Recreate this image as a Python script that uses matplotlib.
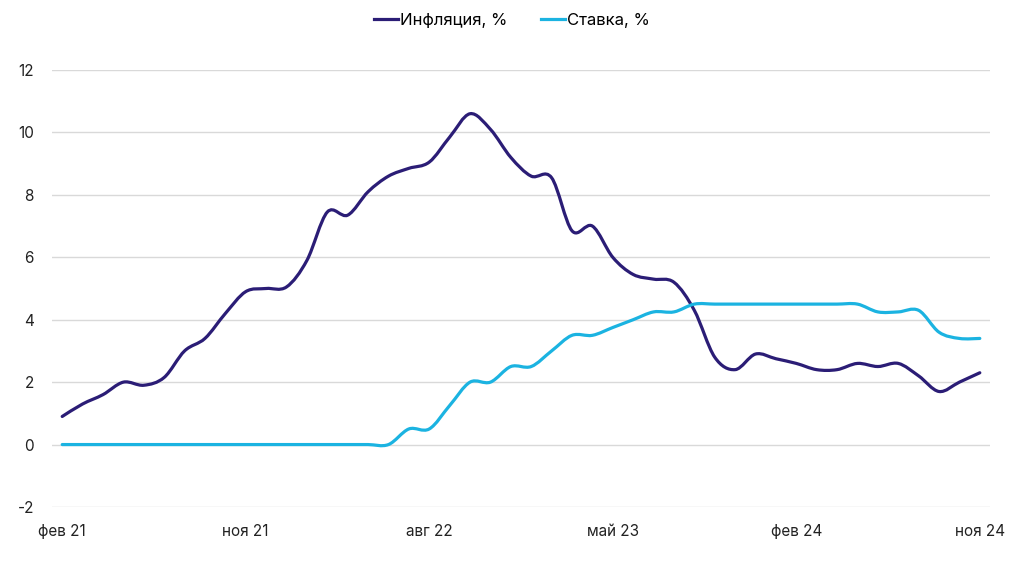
import matplotlib
matplotlib.use("Agg")
import matplotlib.pyplot as plt
from matplotlib.path import Path
from matplotlib.patches import PathPatch
from matplotlib.lines import Line2D
import numpy as np

plt.rcParams['font.family'] = ['Inter', 'DejaVu Sans']
plt.rcParams['axes.unicode_minus'] = False

# monthly data, feb 2021 .. nov 2024
months = np.arange(46)
inflation = [0.9, 1.3, 1.6, 2.0, 1.9, 2.15, 3.0, 3.4, 4.2, 4.9,
             5.0, 5.05, 5.9, 7.45, 7.35, 8.1, 8.6, 8.85, 9.05, 9.85,
             10.6, 10.1, 9.2, 8.6, 8.55, 6.85, 7.0, 6.0, 5.45, 5.3,
             5.2, 4.3, 2.8, 2.4, 2.9, 2.75, 2.6, 2.4, 2.4, 2.6,
             2.5, 2.6, 2.2, 1.7, 2.0, 2.3]
rate = [0, 0, 0, 0, 0, 0, 0, 0, 0, 0,
        0, 0, 0, 0, 0, 0, 0, 0.5, 0.5, 1.25,
        2.0, 2.0, 2.5, 2.5, 3.0, 3.5, 3.5, 3.75, 4.0, 4.25,
        4.25, 4.5, 4.5, 4.5, 4.5, 4.5, 4.5, 4.5, 4.5, 4.5,
        4.25, 4.25, 4.3, 3.6, 3.4, 3.4]
tick_pos = [0, 9, 18, 27, 36, 45]
tick_labels = ["фев 21", "ноя 21", "авг 22", "май 23", "фев 24", "ноя 24"]

c_infl = "#2b1d76"
c_rate = "#1bb3e1"


def smooth_path(x, y):
    # catmull-rom style bezier through the points
    n = len(x)
    verts = [(x[0], y[0])]
    codes = [Path.MOVETO]
    for i in range(n - 1):
        a = max(i - 1, 0)
        d = min(i + 2, n - 1)
        c1 = (x[i] + (x[i + 1] - x[a]) / 6, y[i] + (y[i + 1] - y[a]) / 6)
        c2 = (x[i + 1] - (x[d] - x[i]) / 6, y[i + 1] - (y[d] - y[i]) / 6)
        verts += [c1, c2, (x[i + 1], y[i + 1])]
        codes += [Path.CURVE4] * 3
    return Path(verts, codes)


fig = plt.figure(figsize=(10.24, 5.62), dpi=100)
ax = fig.add_axes([0.0508, 0.0979, 0.916, 0.7775])

for vals, col in [(inflation, c_infl), (rate, c_rate)]:
    p = PathPatch(smooth_path(months, vals), fill=False, edgecolor=col,
                  lw=2.3, capstyle='round', joinstyle='round', zorder=3)
    ax.add_patch(p)

ax.set_xlim(-0.5, 45.5)
ax.set_ylim(-2, 12)
ax.set_yticks(range(-2, 13, 2))
ax.set_xticks(tick_pos)
ax.set_xticklabels(tick_labels)
ax.grid(axis='y', color='#d9d9d9', lw=1)
ax.set_axisbelow(True)
for s in ax.spines.values():
    s.set_visible(False)
ax.tick_params(axis='both', length=0, labelsize=11, colors='#222222')
ax.tick_params(axis='y', pad=13)
ax.tick_params(axis='x', pad=12)

handles = [Line2D([], [], color=c_infl, lw=2.3), Line2D([], [], color=c_rate, lw=2.3)]
fig.legend(handles, ["Инфляция, %", "Ставка, %"], loc='center', bbox_to_anchor=(0.5, 0.963),
           ncol=2, frameon=False, fontsize=12, handlelength=1.45, handletextpad=0.12,
           columnspacing=2.0)

plt.savefig("out.png", dpi=100)
